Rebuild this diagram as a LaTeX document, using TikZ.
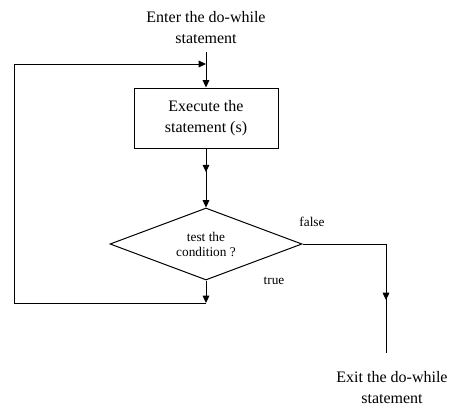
\documentclass[tikz,border=0pt]{standalone}
\usepackage{fontspec}
\setmainfont{Liberation Serif}
\usetikzlibrary{arrows.meta,shapes.geometric,decorations.markings}
\tikzset{
  tip/.tip={Triangle[width=5pt,length=5.5pt]},
  flow/.style={draw=black,line width=0.75pt},
  arr/.style={flow,-tip},
  midarrow/.style={postaction={decorate,decoration={markings,mark=at position #1 with {\arrow{tip}}}}},
  bigtext/.style={font=\fontsize{12}{15.75}\selectfont,align=center,inner sep=0pt},
  smalltext/.style={font=\fontsize{10}{11.25}\selectfont,align=center,inner sep=0pt},
  stmtbox/.style={draw=black,line width=0.75pt,rectangle,minimum width=108pt,minimum height=45pt,inner sep=0pt},
  decision/.style={draw=black,line width=0.75pt,diamond,minimum width=144pt,minimum height=54pt,inner sep=0pt},
}
\begin{document}
\begin{tikzpicture}[x=0.75pt,y=-0.75pt]
\useasboundingbox (0,0) rectangle (458,415);
\node[bigtext] (enter) at (206,28) {Enter the do-while\\statement};
\coordinate (top) at (206,52);
\node[stmtbox,bigtext,inner sep=0pt,minimum width=108pt,minimum height=45pt] (box) at (206,118) {Execute the\\statement (s)};
\node[decision] (dia) at (206,244) {};
\node[smalltext] (cond) at (206,244) {test the\\condition ?};
\node[smalltext] (false) at (312,222) {false};
\node[smalltext] (true) at (274,281) {true};
\coordinate (join) at (206,303);
\coordinate (bl) at (14,303);
\coordinate (tl) at (14,64);
\coordinate (merge) at (206,64);
\coordinate (ex) at (386,353);
\node[bigtext] (exit) at (392,388) {Exit the do-while\\statement};
\draw[arr] (top) -- (box.north);
\draw[arr,midarrow=0.4] (box.south) -- (dia.north);
\draw[arr] (dia.south) -- (join);
\draw[arr] (join) -- (bl) -- (tl) -- (merge);
\draw[flow,midarrow=0.725] (dia.east) -| (ex);
\end{tikzpicture}
\end{document}
